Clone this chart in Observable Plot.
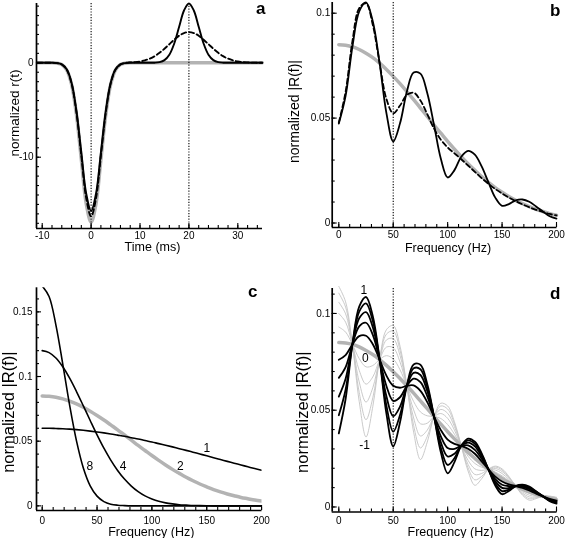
<!DOCTYPE html>
<html><head><meta charset="utf-8">
<script src="https://cdn.jsdelivr.net/npm/d3@7"></script>
<script src="https://cdn.jsdelivr.net/npm/@observablehq/plot@0.6"></script>
<style>
body{margin:0;background:#fff;}
#fig{position:relative;width:565px;height:538px;overflow:hidden;background:#fff;}
#fig svg{will-change:transform;}
</style></head><body><div id="fig"></div>
<script>
// ---------- panel a : time domain ----------
const timeMs = [-11,-10,-9,-8,-7,-6,-5,-4,-3,-2,-1,0,1,2,3,4,5,6,7,8,9,10,11,12,13,14,15,16,17,18,19,20,21,22,23,24,25,26,27,28,29,30,31,32,33,34,35];
const rGray = [0,0,0,0,-0.04,-0.19,-0.74,-2.29,-5.49,-10.25,-14.91,-16.9,-14.91,-10.25,-5.49,-2.29,-0.74,-0.19,-0.04,0,0,0,0,0,0,0,0,0,0,0,0,0,0,0,0,0,0,0,0,0,0,0,0,0,0,0,0];
const rSolid = [0,0,0,0,-0.03,-0.17,-0.69,-2.12,-5.10,-9.52,-13.86,-15.7,-13.86,-9.52,-5.10,-2.12,-0.69,-0.17,-0.03,0,0,0,0,0,0.01,0.07,0.28,0.85,2.04,3.81,5.54,6.28,5.54,3.81,2.04,0.85,0.28,0.07,0.01,0,0,0,0,0,0,0,0];
const rDashed = [0,0,0,0,-0.04,-0.18,-0.71,-2.20,-5.28,-9.86,-14.35,-16.26,-14.35,-9.86,-5.28,-2.20,-0.71,-0.17,-0.02,0.04,0.07,0.14,0.26,0.44,0.70,1.06,1.49,1.97,2.45,2.87,3.15,3.25,3.15,2.87,2.45,1.97,1.49,1.06,0.70,0.44,0.26,0.14,0.07,0.04,0.02,0.01,0];

// ---------- frequency domain ----------
const freqHz = [0,6.25,12.5,18.75,25,31.25,37.5,43.75,50,56.25,62.5,68.75,75,81.25,87.5,93.75,100,106.25,112.5,118.75,125,131.25,137.5,143.75,150,156.25,162.5,168.75,175,181.25,187.5,193.75,200];
const specGray = [.0850,.0847,.0840,.0827,.0809,.0788,.0762,.0732,.0699,.0664,.0626,.0588,.0548,.0508,.0467,.0428,.0389,.0352,.0316,.0282,.0251,.0221,.0194,.0169,.0147,.0126,.0108,.0092,.0078,.0065,.0055,.0045,.0037];
const specDashed = [.0478,.0625,.0866,.1024,.1047,.0944,.0763,.0591,.0523,.0560,.0610,.0621,.0584,.0519,.0450,.0397,.0360,.0332,.0304,.0274,.0244,.0214,.0187,.0162,.0141,.0121,.0104,.0089,.0075,.0063,.0053,.0043,.0036];
// panel c
const width1 = [.0600,.0600,.0598,.0596,.0593,.0589,.0584,.0578,.0571,.0564,.0556,.0547,.0538,.0527,.0517,.0505,.0494,.0481,.0469,.0456,.0442,.0429,.0415,.0401,.0387,.0372,.0358,.0344,.0330,.0316,.0302,.0288,.0275];
const width4 = [.1200,.1185,.1143,.1075,.0987,.0884,.0773,.0660,.0549,.0446,.0354,.0274,.0207,.0153,.0110,.0077,.0053,.0035,.0023,.0015,.0009,.0006,.0003,.0002,.0001,0,0,0,0,0,0,0,0];
const width8 = [.1700,.1619,.1398,.1096,.0778,.0502,.0293,.0155,.0075,.0033,.0013,.0005,.0002,0,0,0,0,0,0,0,0,0,0,0,0,0,0,0,0,0,0,0,0];
// panel d : black family (towards label 1)
const dPos1 = [.0761,.0785,.0840,.0883,.0885,.0841,.0762,.0679,.0626,.0616,.0626,.0628,.0600,.0542,.0467,.0397,.0348,.0326,.0316,.0301,.0275,.0236,.0194,.0157,.0132,.0117,.0108,.0098,.0085,.0069,.0055,.0042,.0033];
const dPos2 = [.0667,.0723,.0840,.0933,.0952,.0889,.0762,.0625,.0548,.0567,.0626,.0663,.0645,.0573,.0467,.0365,.0305,.0300,.0316,.0318,.0295,.0249,.0194,.0144,.0115,.0108,.0108,.0104,.0092,.0073,.0055,.0038,.0029];
const dPos3 = [.0570,.0662,.0840,.0975,.1007,.0929,.0762,.0572,.0469,.0519,.0626,.0693,.0682,.0599,.0467,.0334,.0261,.0275,.0316,.0332,.0313,.0260,.0194,.0132,.0099,.0098,.0108,.0108,.0097,.0077,.0055,.0035,.0025];
const dPos4 = [.0474,.0606,.0840,.1009,.1052,.0961,.0762,.0524,.0389,.0475,.0626,.0717,.0712,.0620,.0467,.0306,.0217,.0252,.0316,.0344,.0326,.0270,.0194,.0121,.0082,.0090,.0108,.0112,.0101,.0079,.0055,.0032,.0021];
const dPos5 = [.0380,.0558,.0840,.1035,.1085,.0986,.0762,.0482,.0313,.0438,.0626,.0736,.0735,.0636,.0467,.0282,.0174,.0232,.0316,.0353,.0337,.0277,.0194,.0111,.0066,.0083,.0108,.0115,.0105,.0081,.0055,.0030,.0017];
// panel d : gray family (towards label -1)
const dNeg1 = [.0930,.0904,.0840,.0767,.0724,.0731,.0762,.0782,.0765,.0709,.0626,.0545,.0491,.0471,.0467,.0457,.0426,.0376,.0316,.0262,.0225,.0205,.0194,.0180,.0161,.0135,.0108,.0085,.0070,.0060,.0055,.0048,.0040];
const dNeg2 = [.1000,.0955,.0840,.0706,.0635,.0672,.0762,.0826,.0823,.0749,.0626,.0502,.0430,.0433,.0467,.0483,.0458,.0397,.0316,.0241,.0197,.0189,.0194,.0191,.0173,.0142,.0108,.0079,.0061,.0055,.0055,.0051,.0044];
const dNeg3 = [.1058,.0998,.0840,.0646,.0542,.0616,.0762,.0863,.0870,.0783,.0626,.0460,.0367,.0397,.0467,.0504,.0484,.0415,.0316,.0220,.0168,.0173,.0194,.0199,.0183,.0149,.0108,.0072,.0052,.0051,.0055,.0053,.0046];
const dNeg4 = [.1105,.1033,.0840,.0592,.0451,.0564,.0762,.0893,.0909,.0810,.0626,.0421,.0305,.0364,.0467,.0522,.0506,.0429,.0316,.0202,.0140,.0158,.0194,.0206,.0191,.0154,.0108,.0066,.0043,.0047,.0055,.0055,.0048];
const dNeg5 = [.1140,.1060,.0840,.0545,.0362,.0519,.0762,.0916,.0938,.0831,.0626,.0387,.0245,.0335,.0467,.0536,.0522,.0440,.0316,.0186,.0112,.0146,.0194,.0211,.0197,.0158,.0108,.0061,.0035,.0043,.0055,.0056,.0050];

// tick labels
const ticksTime = [-10,0,10,20,30];
const ticksR = [-10,0];
const ticksFreq = [0,50,100,150,200];
const ticksSpecB = [0,0.05,0.1];
const ticksSpecC = [0,0.05,0.1,0.15];
const ticksSpecD = [0,0.05,0.1];
const labelsC = [{f:150,v:0.0443,t:"1"},{f:126,v:0.0309,t:"2"},{f:73.8,v:0.0309,t:"4"},{f:43.4,v:0.0309,t:"8"}];
const labelsD = [{f:23,v:0.112,t:"1"},{f:24.5,v:0.0767,t:"0"},{f:23.6,v:0.0319,t:"-1"}];

const FONT = '"Liberation Sans", Arial, Helvetica, sans-serif';
const fmtSpec = d => d === 0 ? "0" : String(+d.toFixed(2));
const GRAY = "#b3b3b3";

function panel(o) {
  const innerW = o.width - o.ml - o.mr, innerH = o.height - o.mt - o.mb;
  const marks = [
    ...o.curves,
    Plot.ruleX([o.xDomain[0]], {stroke: "#000", strokeWidth: 1.7}),
    Plot.ruleY([o.yDomain[0]], {stroke: "#000", strokeWidth: 1.7}),
    Plot.tickX(o.xMinor, {x: d => d, insetTop: innerH - 3, strokeWidth: 1.1}),
    Plot.tickX(o.xMajor, {x: d => d, insetTop: innerH - 5, strokeWidth: 1.1}),
    Plot.tickY(o.yMinor, {y: d => d, insetRight: innerW - 3, strokeWidth: 1.1}),
    Plot.tickY(o.yMajor, {y: d => d, insetRight: innerW - 5, strokeWidth: 1.1}),
    Plot.text(o.xMajor, {x: d => d, frameAnchor: "bottom", textAnchor: "middle", lineAnchor: "top", dy: o.xLabDy, text: o.xFmt, fontSize: 10}),
    Plot.text(o.yMajor, {y: d => d, frameAnchor: "left", textAnchor: "end", lineAnchor: "middle", dx: o.yLabDx, text: o.yFmt, fontSize: 10}),
    Plot.text([o.xTitle], {frameAnchor: "bottom", textAnchor: "middle", lineAnchor: "bottom", dx: o.xTitleDx, dy: o.xTitleDy, fontSize: 12.5}),
    Plot.text([o.yTitle], {frameAnchor: "left", textAnchor: "middle", rotate: -90, lineAnchor: "middle", dx: o.yTitleDx, dy: o.yTitleDy, fontSize: o.yTitleSize}),
    Plot.text([o.letter], {frameAnchor: "top-right", textAnchor: "end", lineAnchor: "bottom", dx: o.letterDx, dy: o.letterDy, fontSize: 17, fontWeight: "bold"}),
    ...(o.extra || [])
  ];
  const svg = Plot.plot({
    width: o.width, height: o.height,
    marginLeft: o.ml, marginRight: o.mr, marginTop: o.mt, marginBottom: o.mb,
    x: {domain: o.xDomain, axis: null},
    y: {domain: o.yDomain, axis: null},
    style: {fontFamily: FONT, color: "#000", background: "transparent", overflow: "visible"},
    marks
  });
  svg.style.position = "absolute";
  svg.style.left = o.left + "px";
  svg.style.top = o.top + "px";
  document.getElementById("fig").appendChild(svg);
}

const line = (ys, xs, opt) => Plot.line(ys, {x: xs, y: ys, curve: "catmull-rom", ...opt});

// a
panel({
  left: 0, top: 0, width: 282, height: 268, ml: 36, mr: 20, mt: 3, mb: 40,
  xDomain: [-11.17, 35.05], yDomain: [-17.55, 6.28],
  xMajor: ticksTime, xMinor: d3.range(-10, 35, 2),
  yMajor: ticksR, yMinor: d3.range(-17, 7, 1),
  xFmt: d => String(d), yFmt: d => String(d),
  xLabDy: 3, yLabDx: -3,
  xTitle: "Time (ms)", xTitleDx: 3, xTitleDy: 22.5,
  yTitle: "normalized r(t)", yTitleDx: -22, yTitleDy: -3, yTitleSize: 13.5,
  letter: "a", letterDx: 3, letterDy: 10,
  curves: [
    line(rGray, timeMs, {stroke: GRAY, strokeWidth: 3.5}),
    line(rDashed, timeMs, {stroke: "#000", strokeWidth: 1.9, strokeDasharray: "5,3"}),
    line(rSolid, timeMs, {stroke: "#000", strokeWidth: 1.9}),
    Plot.ruleX([0, 20], {stroke: "#000", strokeWidth: 1.1, strokeDasharray: "1.2,1.6"})
  ]
});

// b
panel({
  left: 282, top: 0, width: 283, height: 268, ml: 49.7, mr: 8.5, mt: 2, mb: 41,
  xDomain: [-6.06, 200.46], yDomain: [-0.00214, 0.1051],
  xMajor: ticksFreq, xMinor: d3.range(0, 201, 10),
  yMajor: ticksSpecB, yMinor: d3.range(0, 0.1001, 0.01),
  xFmt: d => String(d), yFmt: fmtSpec,
  xLabDy: 3, yLabDx: -2,
  xTitle: "Frequency (Hz)", xTitleDx: 3.4, xTitleDy: 24,
  yTitle: "normalized |R(f)|", yTitleDx: -37.7, yTitleDy: -3.5, yTitleSize: 14,
  letter: "b", letterDx: 3.5, letterDy: 13,
  curves: [
    line(specGray, freqHz, {stroke: GRAY, strokeWidth: 3.5}),
    line(dPos4, freqHz, {stroke: "#000", strokeWidth: 1.8}),
    line(specDashed, freqHz, {stroke: "#000", strokeWidth: 1.8, strokeDasharray: "5,3"}),
    Plot.ruleX([50], {stroke: "#000", strokeWidth: 1.1, strokeDasharray: "1.2,1.6"})
  ]
});

// c
panel({
  left: 0, top: 268, width: 282, height: 270, ml: 36, mr: 20.5, mt: 19.3, mb: 28,
  xDomain: [-5.2, 200.4], yDomain: [-0.0036, 0.1686],
  xMajor: ticksFreq, xMinor: d3.range(0, 201, 10),
  yMajor: ticksSpecC, yMinor: d3.range(0, 0.1601, 0.01),
  xFmt: d => String(d), yFmt: fmtSpec,
  xLabDy: 6, yLabDx: -4,
  xTitle: "Frequency (Hz)", xTitleDx: 2, xTitleDy: 25,
  yTitle: "normalized |R(f)|", yTitleDx: -27.5, yTitleDy: 13, yTitleSize: 16.5,
  letter: "c", letterDx: -4.5, letterDy: 9,
  curves: [
    line(specGray, freqHz, {stroke: GRAY, strokeWidth: 3.5, clip: true}),
    line(width1, freqHz, {stroke: "#000", strokeWidth: 1.6, clip: true}),
    line(width4, freqHz, {stroke: "#000", strokeWidth: 1.6, clip: true}),
    line(width8, freqHz, {stroke: "#000", strokeWidth: 1.6, clip: true}),
    Plot.text(labelsC, {x: "f", y: "v", text: "t", fontSize: 12, lineAnchor: "middle", fill: "#000"})
  ]
});

// d
panel({
  left: 282, top: 268, width: 283, height: 270, ml: 49.7, mr: 8.5, mt: 20, mb: 26.5,
  xDomain: [-6.06, 200.46], yDomain: [-0.0026, 0.1129],
  xMajor: ticksFreq, xMinor: d3.range(0, 201, 10),
  yMajor: ticksSpecD, yMinor: d3.range(0, 0.1101, 0.01),
  xFmt: d => String(d), yFmt: fmtSpec,
  xLabDy: 5, yLabDx: -2,
  xTitle: "Frequency (Hz)", xTitleDx: 6, xTitleDy: 24,
  yTitle: "normalized |R(f)|", yTitleDx: -29.2, yTitleDy: 12, yTitleSize: 16.5,
  letter: "d", letterDx: 3.5, letterDy: 10,
  curves: [
    ...[dNeg1, dNeg2, dNeg3, dNeg4, dNeg5].map(a => line(a, freqHz, {stroke: "#c4c4c4", strokeWidth: 0.9})),
    line(specGray, freqHz, {stroke: GRAY, strokeWidth: 3.5}),
    ...[dPos1, dPos2, dPos3, dPos4, dPos5].map(a => line(a, freqHz, {stroke: "#000", strokeWidth: 1.8})),
    Plot.ruleX([50], {stroke: "#000", strokeWidth: 1.1, strokeDasharray: "1.2,1.6"}),
    Plot.text(labelsD, {x: "f", y: "v", text: "t", fontSize: 12, lineAnchor: "middle", fill: "#000"})
  ]
});
</script></body></html>
